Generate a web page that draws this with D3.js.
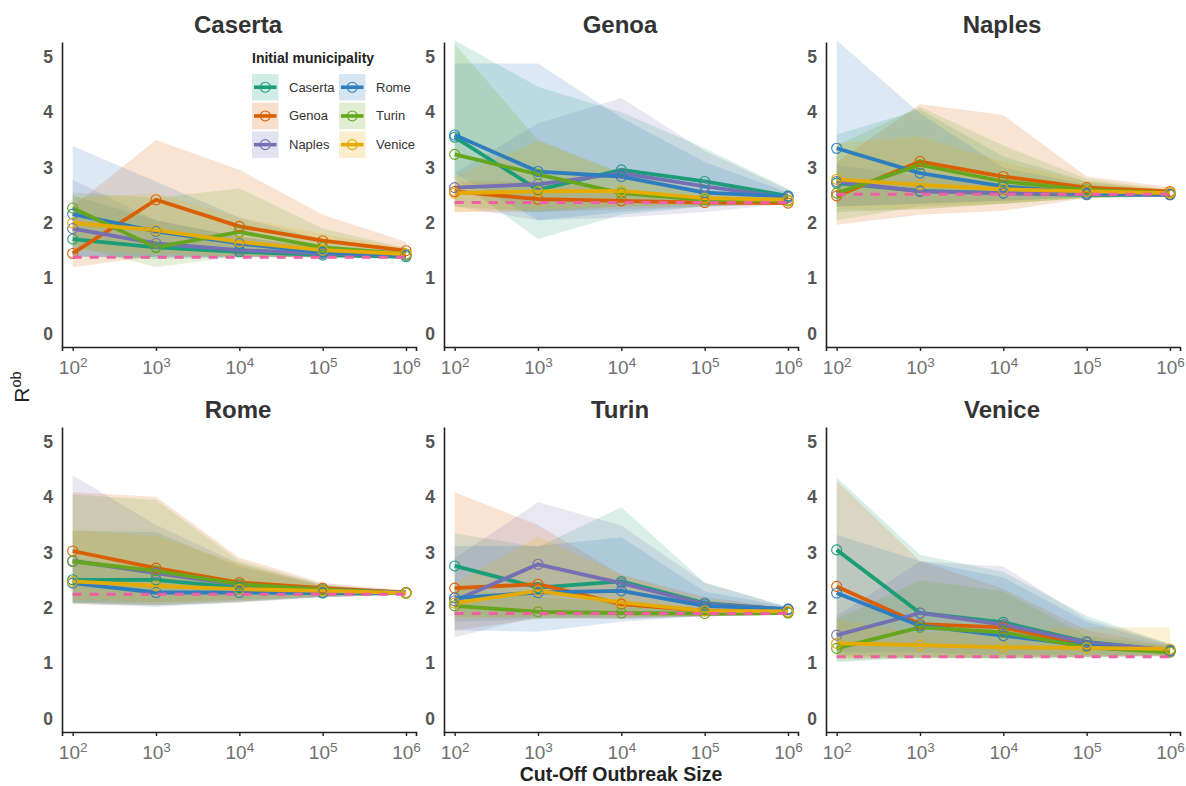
<!DOCTYPE html>
<html>
<head>
<meta charset="utf-8">
<script src="https://cdn.jsdelivr.net/npm/d3@7"></script>
<style>
  html, body { margin: 0; padding: 0; background: #ffffff; }
  svg { display: block; font-family: "Liberation Sans", Arial, sans-serif; }
</style>
</head>
<body>
<svg id="chart" width="1186" height="786"></svg>
<script>
// ---------- data ----------
const cutoffs = [1e2, 1e3, 1e4, 1e5, 1e6];
const xTickExponents = ["2", "3", "4", "5", "6"];
const yTicks = [0, 1, 2, 3, 4, 5];
const panelNames = ["Caserta", "Genoa", "Naples", "Rome", "Turin", "Venice"];
const initialNames = ["Caserta", "Genoa", "Naples", "Rome", "Turin", "Venice"];
const seriesColors = ["#1B9E77", "#D95F02", "#7570B3", "#2E7EBF", "#66A61E", "#E6AB02"];
const baselineR = [1.38, 2.37, 2.52, 2.25, 1.90, 1.12];

// rows = initial municipality (Caserta, Genoa, Naples, Rome, Turin, Venice)
const casertaMean = [[1.71,1.56,1.48,1.42,1.39],[1.45,2.42,1.94,1.68,1.50],[1.90,1.63,1.51,1.45,1.42],[2.16,1.85,1.63,1.47,1.42],[2.27,1.56,1.84,1.56,1.44],[2.00,1.87,1.66,1.51,1.44]];
const casertaLo   = [[1.40,1.35,1.38,1.38,1.37],[1.20,1.40,1.40,1.38,1.38],[1.40,1.38,1.38,1.38,1.38],[1.38,1.38,1.38,1.38,1.38],[1.60,1.20,1.40,1.38,1.38],[1.50,1.45,1.40,1.38,1.38]];
const casertaHi   = [[2.50,2.05,1.75,1.55,1.45],[2.30,3.50,2.96,2.15,1.66],[2.78,2.05,1.75,1.55,1.47],[3.39,2.75,2.10,1.70,1.50],[2.55,2.45,2.63,1.90,1.55],[2.45,2.54,2.10,1.80,1.55]];

const genoaMean = [[3.55,2.60,2.96,2.75,2.49],[2.57,2.43,2.40,2.37,2.36],[2.64,2.70,2.90,2.66,2.46],[3.59,2.93,2.84,2.55,2.48],[3.24,2.88,2.54,2.42,2.40],[2.54,2.57,2.58,2.45,2.42]];
const genoaLo   = [[2.80,1.71,2.15,2.30,2.35],[2.20,2.20,2.25,2.30,2.33],[2.30,2.05,2.10,2.20,2.35],[2.90,2.05,2.20,2.30,2.38],[2.30,2.20,2.30,2.33,2.35],[2.20,2.25,2.30,2.32,2.35]];
const genoaHi   = [[5.30,4.46,4.00,3.35,2.62],[2.75,2.75,2.60,2.45,2.40],[2.90,3.80,4.26,3.30,2.60],[4.88,4.88,3.90,3.10,2.55],[5.24,3.50,2.90,2.55,2.45],[2.85,3.48,2.90,2.60,2.45]];

const naplesMean = [[2.72,2.58,2.54,2.51,2.51],[2.49,3.11,2.84,2.64,2.57],[2.75,2.57,2.54,2.52,2.51],[3.35,2.90,2.66,2.54,2.52],[2.54,3.05,2.75,2.60,2.54],[2.79,2.69,2.61,2.57,2.54]];
const naplesLo   = [[2.20,2.25,2.35,2.45,2.48],[1.97,2.15,2.22,2.45,2.50],[2.30,2.35,2.40,2.47,2.49],[2.30,2.35,2.40,2.47,2.49],[2.05,2.30,2.35,2.45,2.48],[2.25,2.25,2.35,2.45,2.49]];
const naplesHi   = [[3.60,4.05,3.20,2.75,2.58],[3.10,4.15,3.95,2.84,2.65],[3.05,2.85,2.70,2.60,2.55],[5.30,3.98,3.00,2.70,2.58],[3.40,4.10,3.40,2.80,2.60],[3.44,3.56,3.10,2.75,2.60]];

const romeMean = [[2.51,2.51,2.37,2.28,2.27],[3.03,2.72,2.46,2.36,2.28],[2.85,2.63,2.42,2.33,2.28],[2.45,2.28,2.28,2.27,2.27],[2.84,2.67,2.43,2.33,2.27],[2.48,2.40,2.34,2.31,2.27]];
const romeLo   = [[2.10,2.10,2.15,2.20,2.24],[2.07,2.05,2.10,2.20,2.24],[2.10,2.05,2.12,2.20,2.24],[2.08,2.02,2.10,2.20,2.24],[2.10,2.05,2.12,2.20,2.24],[2.15,2.10,2.15,2.22,2.24]];
const romeHi   = [[3.40,3.37,2.75,2.40,2.30],[4.09,4.01,2.91,2.45,2.32],[4.40,3.50,2.80,2.42,2.30],[2.90,2.70,2.50,2.35,2.30],[4.05,3.95,2.85,2.43,2.30],[3.40,3.30,2.80,2.40,2.30]];

const turinMean = [[2.76,2.37,2.48,2.09,1.97],[2.36,2.43,2.07,1.95,1.92],[2.13,2.79,2.45,2.07,1.98],[2.18,2.28,2.31,2.04,1.98],[2.04,1.93,1.91,1.90,1.91],[2.09,2.31,2.10,1.95,1.94]];
const turinLo   = [[1.75,1.80,1.85,1.85,1.88],[1.60,1.80,1.80,1.85,1.88],[1.47,1.85,1.80,1.85,1.88],[1.60,1.57,1.75,1.85,1.88],[1.85,1.82,1.82,1.85,1.88],[1.80,1.85,1.85,1.85,1.88]];
const turinHi   = [[3.35,3.10,3.82,2.46,2.02],[4.09,3.50,2.60,2.20,2.00],[2.90,3.91,3.49,2.45,2.02],[3.12,3.12,3.28,2.30,2.02],[2.35,2.20,2.10,2.00,1.95],[2.45,3.29,2.60,2.15,2.00]];

const veniceMean = [[3.05,1.91,1.74,1.39,1.23],[2.39,1.71,1.65,1.32,1.22],[1.51,1.91,1.70,1.38,1.24],[2.27,1.68,1.50,1.32,1.22],[1.27,1.65,1.56,1.29,1.20],[1.36,1.33,1.29,1.28,1.26]];
const veniceLo   = [[1.02,1.10,1.08,1.10,1.12],[1.10,1.10,1.10,1.12,1.14],[1.20,1.20,1.15,1.15,1.15],[1.15,1.10,1.10,1.12,1.14],[1.05,1.10,1.10,1.12,1.14],[1.10,1.10,1.10,1.12,1.14]];
const veniceHi   = [[4.36,2.96,2.65,1.86,1.35],[4.30,2.85,2.35,1.60,1.32],[1.85,2.84,2.75,1.80,1.35],[3.32,2.85,2.55,1.75,1.33],[1.80,2.50,2.30,1.50,1.30],[1.80,1.55,1.60,1.65,1.65]];

const panelMeans = [casertaMean, genoaMean, naplesMean, romeMean, turinMean, veniceMean];
const panelLos = [casertaLo, genoaLo, naplesLo, romeLo, turinLo, veniceLo];
const panelHis = [casertaHi, genoaHi, naplesHi, romeHi, turinHi, veniceHi];

// ---------- layout ----------
const svg = d3.select("#chart");
const colLeft = [62, 444, 826];
const rowTop = [42, 427];
const pw = 354, ph = 305;

const x = d3.scaleLog().domain([Math.pow(10, 1.872), Math.pow(10, 6.12)]).range([0, pw]);
const y = d3.scaleLinear().domain([-0.24, 5.27]).range([ph, 0]);

const defs = svg.append("defs");

panelNames.forEach((name, p) => {
  const col = p % 3, row = Math.floor(p / 3);
  const g = svg.append("g").attr("transform", `translate(${colLeft[col]},${rowTop[row]})`);

  defs.append("clipPath").attr("id", "clip" + p)
    .append("rect").attr("x", 0).attr("y", -2).attr("width", pw + 4).attr("height", ph + 2);

  const plot = g.append("g").attr("clip-path", `url(#clip${p})`);
  const means = panelMeans[p], los = panelLos[p], his = panelHis[p];

  const area = d3.area()
    .x((d, i) => x(cutoffs[i]))
    .y0((d, i) => y(d[0]))
    .y1((d, i) => y(d[1]));
  const line = d3.line().x((d, i) => x(cutoffs[i])).y(d => y(d));

  // ribbons
  initialNames.forEach((s, k) => {
    const band = los[k].map((v, i) => [v, his[k][i]]);
    plot.append("path").datum(band)
      .attr("d", area)
      .attr("fill", seriesColors[k])
      .attr("fill-opacity", 0.17);
  });
  // lines
  initialNames.forEach((s, k) => {
    plot.append("path").datum(means[k])
      .attr("d", line)
      .attr("fill", "none")
      .attr("stroke", seriesColors[k])
      .attr("stroke-width", 3.8)
      .attr("stroke-linejoin", "round");
  });
  // points
  initialNames.forEach((s, k) => {
    plot.selectAll(null).data(means[k]).enter().append("circle")
      .attr("cx", (d, i) => x(cutoffs[i]))
      .attr("cy", d => y(d))
      .attr("r", 5)
      .attr("fill", "none")
      .attr("stroke", seriesColors[k])
      .attr("stroke-width", 1.1);
  });
  // baseline
  plot.append("line")
    .attr("x1", x(cutoffs[0])).attr("x2", x(cutoffs[4]))
    .attr("y1", y(baselineR[p])).attr("y2", y(baselineR[p]))
    .attr("stroke", "#EE5FA4")
    .attr("stroke-width", 3)
    .attr("stroke-dasharray", "9,8");

  // axes
  const xAxis = d3.axisBottom(x).tickValues(cutoffs).tickSize(4).tickFormat("");
  const xg = g.append("g").attr("transform", `translate(0,${ph})`).call(xAxis);
  xg.select(".domain").attr("stroke", "#222").attr("stroke-width", 1.6);
  xg.selectAll(".tick line").attr("stroke", "#222").attr("stroke-width", 1.4);
  xg.selectAll(".tick").each(function(d, i) {
    const t = d3.select(this).append("text")
      .attr("y", 27)
      .attr("text-anchor", "middle")
      .attr("fill", "#707070")
      .attr("font-size", 19);
    t.append("tspan").text("10");
    t.append("tspan").attr("dy", -7).attr("font-size", 13.5).text(xTickExponents[i]);
  });

  const yAxis = d3.axisLeft(y).tickValues(yTicks).tickSize(0).tickPadding(9).tickFormat(d3.format("d"));
  const yg = g.append("g").call(yAxis);
  yg.select(".domain").attr("stroke", "#222").attr("stroke-width", 1.6);
  yg.selectAll(".tick text")
    .attr("fill", "#555")
    .attr("font-size", 17.5)
    .attr("font-weight", "bold")
    .attr("font-family", "Liberation Sans, Arial, sans-serif");

  // title
  g.append("text")
    .attr("x", pw / 2 - 1)
    .attr("y", -9)
    .attr("text-anchor", "middle")
    .attr("font-size", 24)
    .attr("font-weight", "bold")
    .attr("fill", "#333")
    .text(name);
});

// axis labels
svg.append("text")
  .attr("x", 621).attr("y", 781)
  .attr("text-anchor", "middle")
  .attr("font-size", 19.5)
  .attr("font-weight", "bold")
  .attr("fill", "#222")
  .text("Cut-Off Outbreak Size");

const yl = svg.append("text")
  .attr("transform", "translate(29,387) rotate(-90)")
  .attr("text-anchor", "middle")
  .attr("font-size", 21)
  .attr("fill", "#222");
yl.append("tspan").text("R");
yl.append("tspan").attr("dy", -8).attr("font-size", 14.5).text("ob");

// legend
const lg = svg.append("g");
lg.append("text")
  .attr("x", 252).attr("y", 63)
  .attr("font-size", 14)
  .attr("font-weight", "bold")
  .attr("fill", "#222")
  .text("Initial municipality");

const keyX = [252, 339], labelX = [289, 376], keyY0 = 74, keyStep = 28.7, keySize = 26.5;
initialNames.forEach((s, k) => {
  const c = Math.floor(k / 3), r = k % 3;
  const kx = keyX[c], ky = keyY0 + r * keyStep;
  lg.append("rect")
    .attr("x", kx).attr("y", ky).attr("width", keySize).attr("height", keySize)
    .attr("fill", seriesColors[k]).attr("fill-opacity", 0.2);
  lg.append("line")
    .attr("x1", kx + 2).attr("x2", kx + keySize - 2)
    .attr("y1", ky + keySize / 2).attr("y2", ky + keySize / 2)
    .attr("stroke", seriesColors[k]).attr("stroke-width", 3.6);
  lg.append("circle")
    .attr("cx", kx + keySize / 2).attr("cy", ky + keySize / 2).attr("r", 5)
    .attr("fill", "none").attr("stroke", seriesColors[k]).attr("stroke-width", 1.1);
  lg.append("text")
    .attr("x", labelX[c]).attr("y", ky + keySize / 2 + 4.5)
    .attr("font-size", 13)
    .attr("fill", "#333")
    .text(s);
});
</script>
</body>
</html>
